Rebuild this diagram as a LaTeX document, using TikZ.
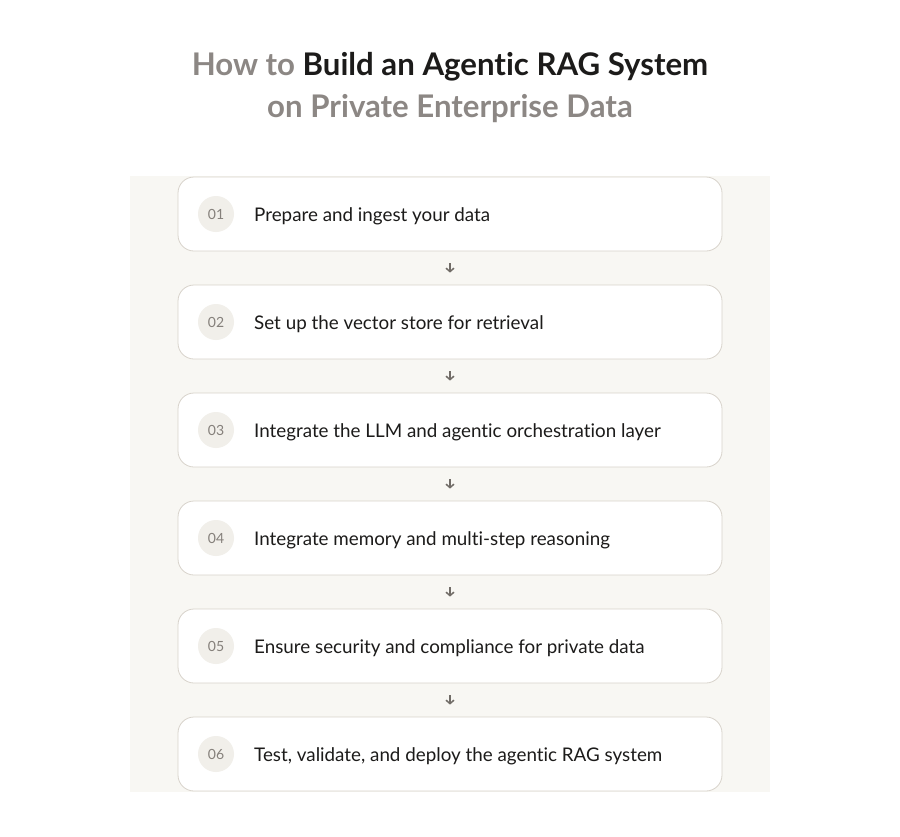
\documentclass[tikz,border=0pt]{standalone}
\usepackage{fontspec}
\setmainfont[Ligatures=NoCommon]{Lato}
\usetikzlibrary{arrows.meta}
\definecolor{panel}{HTML}{F8F7F3}
\definecolor{boxline}{HTML}{D8D3CB}
\definecolor{circfill}{HTML}{F1EFEA}
\definecolor{numgray}{HTML}{85807B}
\definecolor{titlegray}{HTML}{8C8784}
\definecolor{ink}{HTML}{1C1B1A}
\definecolor{arrowgray}{HTML}{716C67}
\tikzset{
  stepbox/.style={draw=boxline, line width=0.8pt, fill=white, rounded corners=16pt,
    minimum width=544pt, minimum height=74pt, inner sep=0pt},
  numcirc/.style={circle, fill=circfill, minimum size=36pt, inner sep=0pt,
    text=numgray, font=\fontsize{14}{16}\selectfont},
  steptext/.style={anchor=west, text=ink, font=\fontsize{18.8}{22}\selectfont, inner sep=0pt},
  flow/.style={draw=arrowgray, line width=1.5pt, -{Straight Barb[length=3.5pt,width=8pt]}},
}
\begin{document}
\begin{tikzpicture}[x=1pt,y=-1pt]
\useasboundingbox (0,0) rectangle (900,836);
\fill[panel] (130,176) rectangle (770,792);
\node[font=\fontsize{31.2}{38}\selectfont\bfseries] (t1) at (450,66.5)
  {\textcolor{titlegray}{How to} \textcolor{ink}{Build an Agentic RAG System}};
\node[font=\fontsize{31.2}{38}\selectfont\bfseries, text=titlegray] (t2) at (450,108.5)
  {on Private Enterprise Data};
\foreach \i/\t in {1/Prepare and ingest your data,
                   2/Set up the vector store for retrieval,
                   3/Integrate the LLM and agentic orchestration layer,
                   4/Integrate memory and multi-step reasoning,
                   5/Ensure security and compliance for private data,
                   6/{Test, validate, and deploy the agentic RAG system}}{
  \pgfmathsetmacro{\yy}{214+108*(\i-1)}
  \node[stepbox] (b\i) at (450,\yy) {};
  \node[numcirc] (c\i) at (216,\yy) {0\i};
  \node[steptext] (s\i) at (254,\yy+1.8) {\t};
}
\foreach \i [evaluate=\i as \j using int(\i+1)] in {1,...,5}{
  \draw[flow] ([yshift=-12pt]b\i.south) -- ([yshift=12pt]b\j.north);
}
\end{tikzpicture}
\end{document}
